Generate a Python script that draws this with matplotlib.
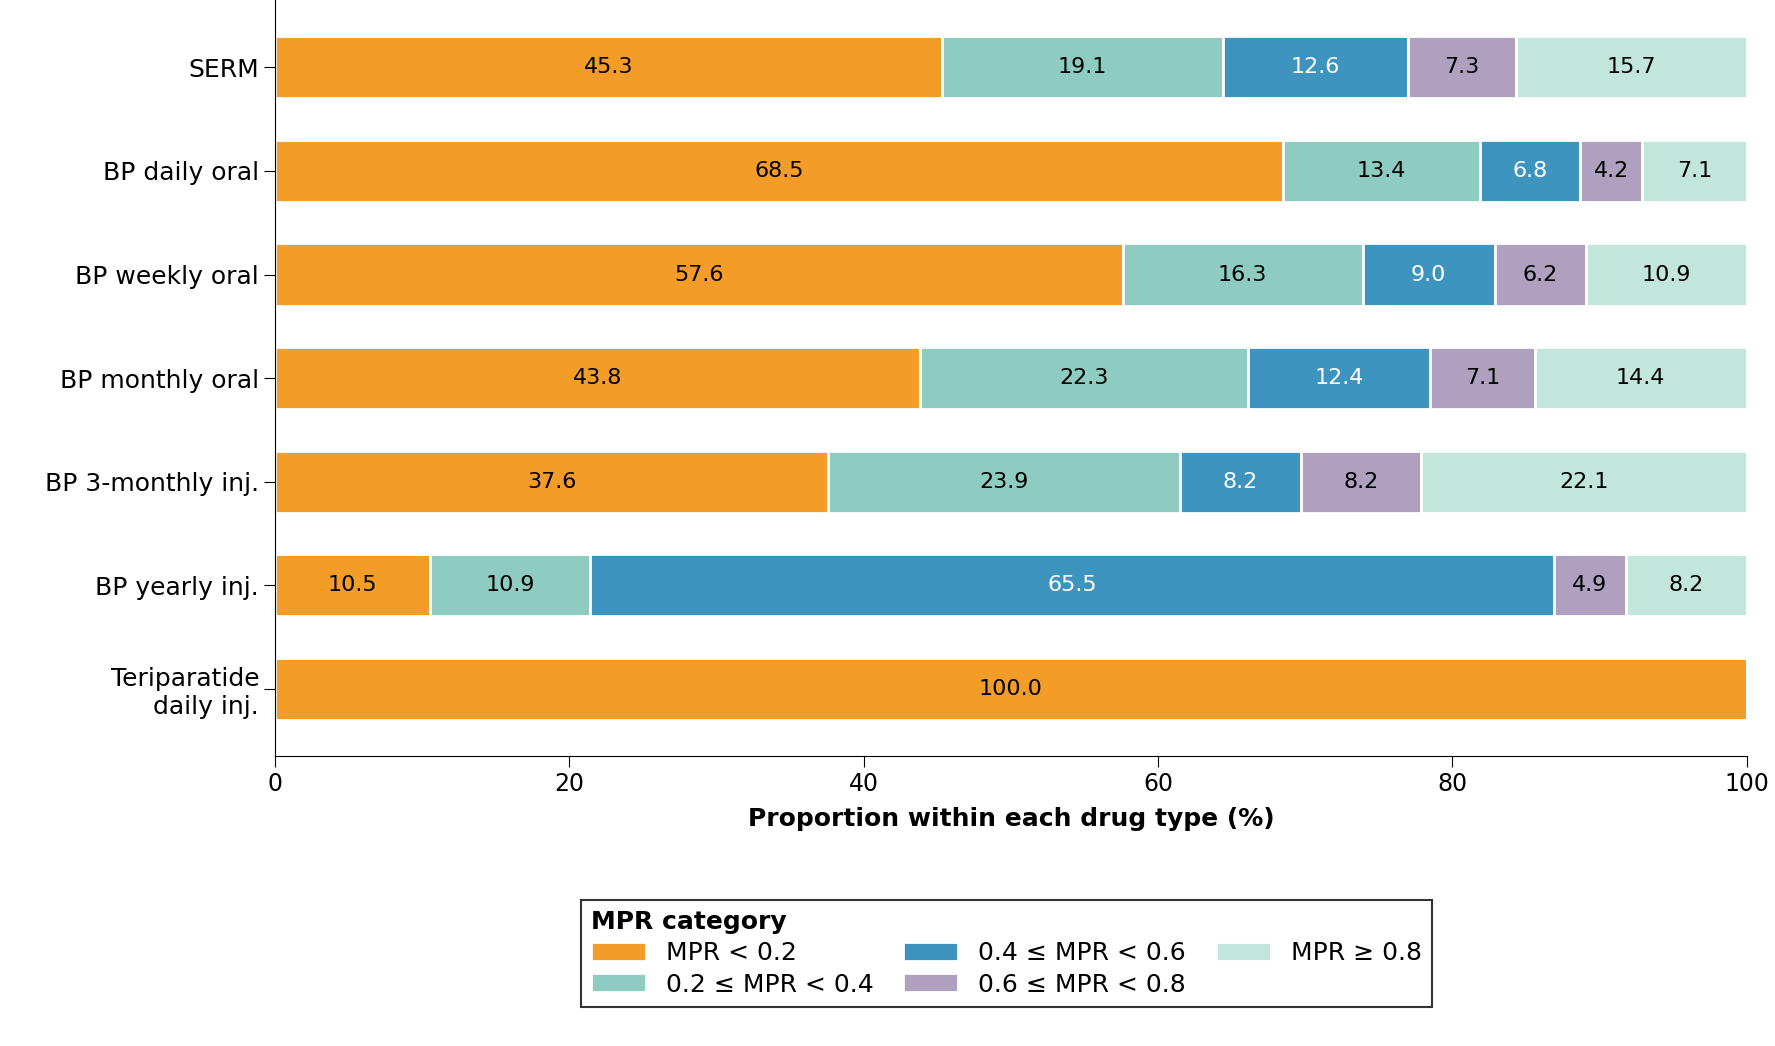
import matplotlib
matplotlib.use("Agg")
import matplotlib.pyplot as plt
import numpy as np

drugs = ["SERM", "BP daily oral", "BP weekly oral", "BP monthly oral",
         "BP 3-monthly inj.", "BP yearly inj.", "Teriparatide\ndaily inj."]
categories = ["MPR < 0.2", "0.2 ≤ MPR < 0.4", "0.4 ≤ MPR < 0.6", "0.6 ≤ MPR < 0.8", "MPR ≥ 0.8"]
mpr_lt02 = [45.3, 68.5, 57.6, 43.8, 37.6, 10.5, 100.0]
mpr_02_04 = [19.1, 13.4, 16.3, 22.3, 23.9, 10.9, 0.0]
mpr_04_06 = [12.6, 6.8, 9.0, 12.4, 8.2, 65.5, 0.0]
mpr_06_08 = [7.3, 4.2, 6.2, 7.1, 8.2, 4.9, 0.0]
mpr_ge08 = [15.7, 7.1, 10.9, 14.4, 22.1, 8.2, 0.0]
series = [mpr_lt02, mpr_02_04, mpr_04_06, mpr_06_08, mpr_ge08]
colors = ["#F39C27", "#8ECBC1", "#3D95BF", "#AEA0BE", "#C2E5DC"]
txtcol = ["black", "black", "white", "black", "black"]

fig = plt.figure(figsize=(17.75, 10.46), dpi=100)
ax = fig.add_axes([0.155, 0.277, 0.829, 0.723])
y = np.arange(len(drugs))
left = np.zeros(len(drugs))
for vals, c, tc, lab in zip(series, colors, txtcol, categories):
    vals = np.array(vals)
    bars = ax.barh(y, vals, left=left, height=0.6, color=c, edgecolor="white", linewidth=2, label=lab)
    for yi, v, l in zip(y, vals, left):
        if v > 0:
            ax.text(l + v / 2, yi, f"{v:.1f}", ha="center", va="center", fontsize=16, color=tc)
    left += vals

ax.set_ylim(6.65, -0.65)
ax.set_xlim(0, 100)
ax.set_yticks(y)
ax.set_yticklabels(drugs, fontsize=18)
ax.set_xticks([0, 20, 40, 60, 80, 100])
ax.tick_params(axis="x", labelsize=17, length=8)
ax.tick_params(axis="y", length=8)
for s in ["top", "right"]:
    ax.spines[s].set_visible(False)
ax.set_xlabel("Proportion within each drug type (%)", fontsize=18, fontweight="bold", labelpad=8)

leg = fig.legend(loc="upper center", bbox_to_anchor=(0.567, 0.152), ncol=3, fontsize=18,
                 title="MPR category", title_fontproperties={"weight": "bold", "size": 18},
                 frameon=True, fancybox=False, edgecolor="black", handlelength=2.2,
                 handleheight=0.8, columnspacing=1.2, labelspacing=0.3)
leg._legend_box.align = "left"
leg.get_frame().set_linewidth(1.5)
fig.savefig("out.png", dpi=100)
